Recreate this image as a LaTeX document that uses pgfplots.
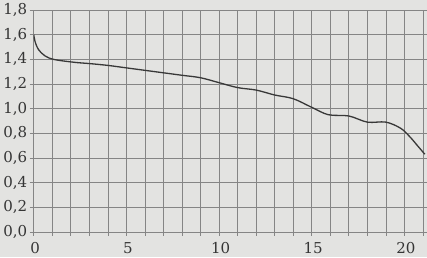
\documentclass[border=0pt]{standalone}
\usepackage{fontspec}
\setmainfont{DejaVu Serif}
\usepackage{pgfplots}
\pgfplotsset{compat=1.18}
\usetikzlibrary{backgrounds}
\definecolor{bgc}{HTML}{E3E3E1}
\definecolor{gridc}{HTML}{858585}
\definecolor{curvec}{HTML}{383838}
\definecolor{textc}{HTML}{353535}
\begin{document}
\begin{tikzpicture}[background rectangle/.style={fill=bgc}, show background rectangle, inner frame sep=0pt]
\begin{axis}[
  scale only axis,
  width=393pt, height=222pt,
  xmin=0, xmax=21.2, ymin=0, ymax=1.8,
  axis line style={draw=none},
  xtick={0,5,10,15,20},
  minor xtick={1,2,3,4,6,7,8,9,11,12,13,14,16,17,18,19,21},
  ytick={0,0.2,...,1.8},
  grid=both,
  major grid style={gridc, line width=0.7pt},
  minor grid style={gridc, line width=0.7pt},
  tick style={gridc, line width=0.7pt},
  tick align=outside,
  major tick length=4pt,
  minor tick length=4pt,
  xtick pos=bottom, ytick pos=left,
  /pgf/number format/assume math mode=true,
  ticklabel style={font=\fontsize{15}{17}\selectfont, text=textc},
  y tick label style={xshift=1pt},
  x tick label style={yshift=-3pt, xshift=1.5pt},
  yticklabel style={/pgf/number format/.cd, fixed, fixed zerofill, precision=1, use comma, assume math mode=true},
]
\addplot[curvec, line width=1.3pt, smooth, tension=0.55] coordinates {
(0,1.60) (0.08,1.54) (0.25,1.48) (0.6,1.428) (1.1,1.398) (2.2,1.375) (3,1.365) (4,1.35)
(5,1.33) (6,1.31) (7,1.29) (8,1.27) (9,1.25) (10,1.21) (11,1.17) (12,1.15)
(13,1.11) (14,1.08) (15,1.01) (15.9,0.95) (17,0.94) (18,0.89) (19,0.89)
(19.8,0.84) (20.3,0.77) (20.7,0.70) (21.1,0.63)
};
\end{axis}
\end{tikzpicture}
\end{document}
